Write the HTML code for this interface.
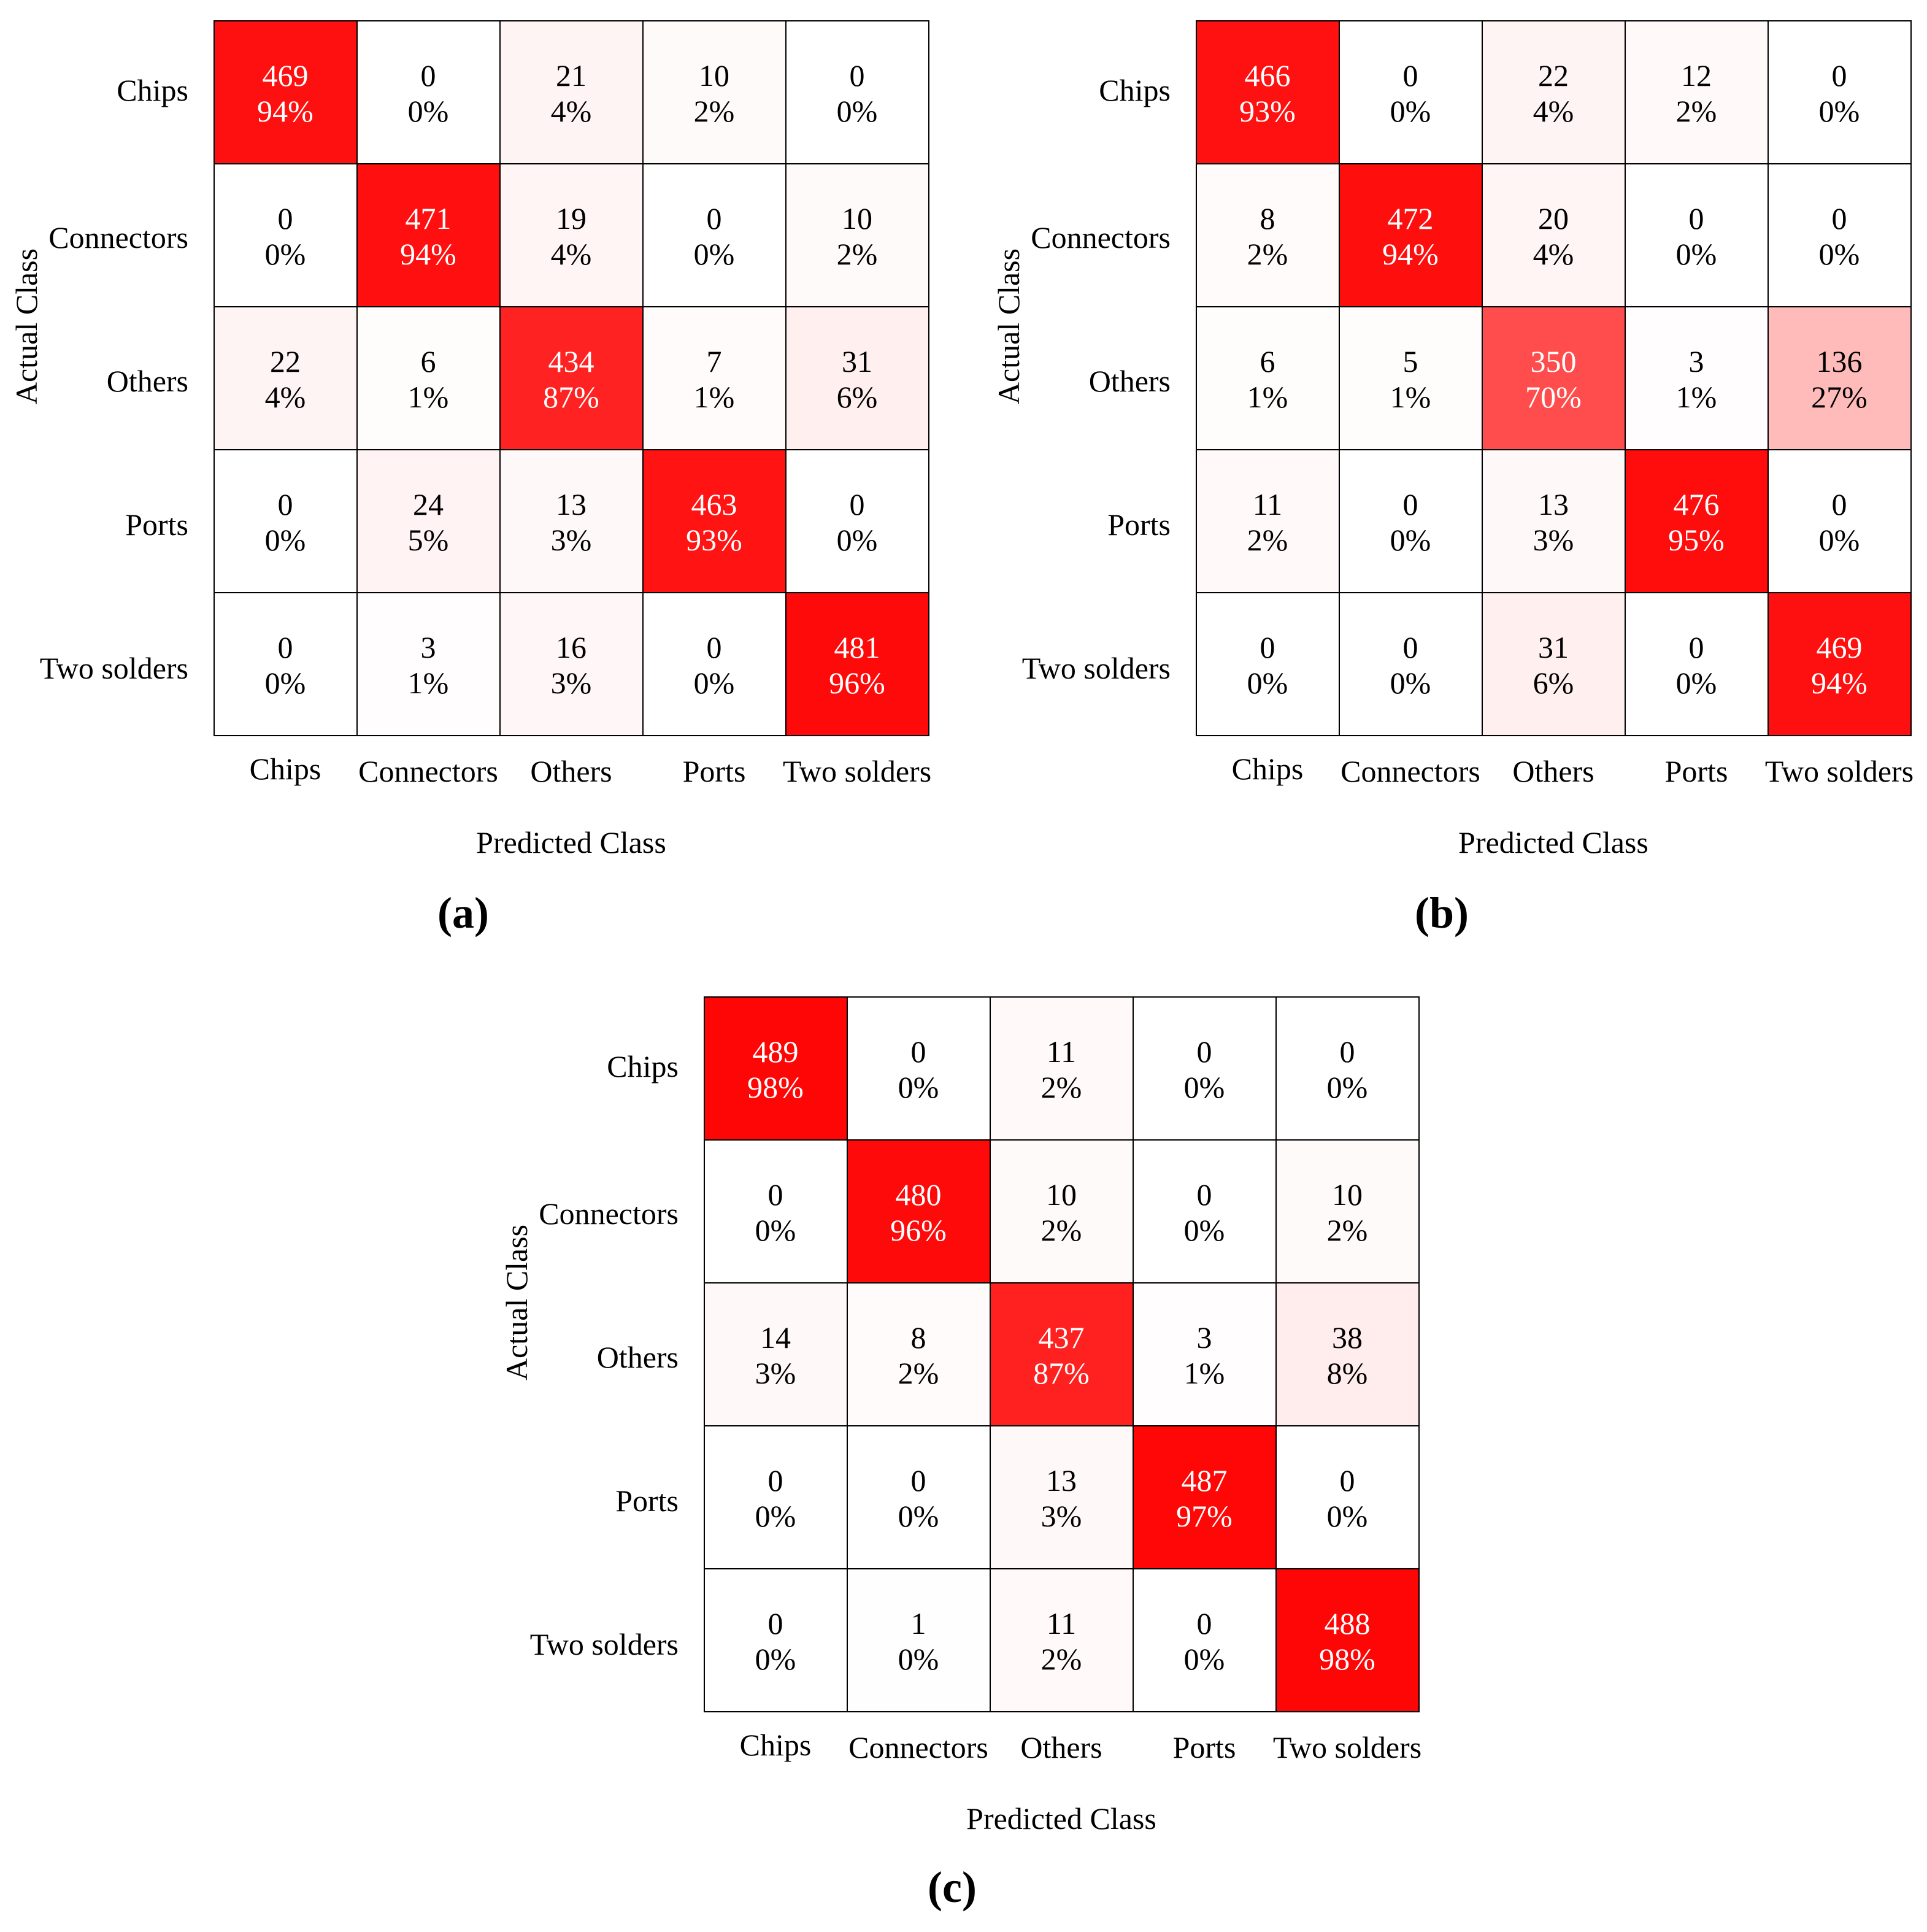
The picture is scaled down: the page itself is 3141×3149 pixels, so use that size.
<!DOCTYPE html>
<html><head><meta charset="utf-8"><style>
html,body{margin:0;padding:0;background:#fff}
svg{display:block}
text{font-family:"Liberation Serif",serif;font-size:50px;fill:#000}
.c text{text-anchor:middle}
.w{fill:#fff}
.r{text-anchor:end}
.m{text-anchor:middle}
.lab{font-family:"Liberation Serif",serif;font-weight:bold;font-size:72px;text-anchor:middle}
rect{stroke:#000;stroke-width:2}
</style></head><body>
<svg width="3141" height="3149" viewBox="0 0 3141 3149" xmlns="http://www.w3.org/2000/svg">
<!-- (a) -->
<g transform="translate(349,34)">
<g>
<rect x="0" y="0" width="233" height="233" fill="rgb(255,16,16)"/><rect x="233" y="0" width="233" height="233" fill="#fff"/><rect x="466" y="0" width="233" height="233" fill="rgb(255,244,244)"/><rect x="699" y="0" width="233" height="233" fill="rgb(255,250,250)"/><rect x="932" y="0" width="233" height="233" fill="#fff"/>
<rect x="0" y="233" width="233" height="233" fill="#fff"/><rect x="233" y="233" width="233" height="233" fill="rgb(255,15,15)"/><rect x="466" y="233" width="233" height="233" fill="rgb(255,245,245)"/><rect x="699" y="233" width="233" height="233" fill="#fff"/><rect x="932" y="233" width="233" height="233" fill="rgb(255,250,250)"/>
<rect x="0" y="466" width="233" height="233" fill="rgb(255,244,244)"/><rect x="233" y="466" width="233" height="233" fill="rgb(255,252,252)"/><rect x="466" y="466" width="233" height="233" fill="rgb(255,34,34)"/><rect x="699" y="466" width="233" height="233" fill="rgb(255,251,251)"/><rect x="932" y="466" width="233" height="233" fill="rgb(255,239,239)"/>
<rect x="0" y="699" width="233" height="233" fill="#fff"/><rect x="233" y="699" width="233" height="233" fill="rgb(255,243,243)"/><rect x="466" y="699" width="233" height="233" fill="rgb(255,248,248)"/><rect x="699" y="699" width="233" height="233" fill="rgb(255,19,19)"/><rect x="932" y="699" width="233" height="233" fill="#fff"/>
<rect x="0" y="932" width="233" height="233" fill="#fff"/><rect x="233" y="932" width="233" height="233" fill="rgb(255,253,253)"/><rect x="466" y="932" width="233" height="233" fill="rgb(255,247,247)"/><rect x="699" y="932" width="233" height="233" fill="#fff"/><rect x="932" y="932" width="233" height="233" fill="rgb(255,10,10)"/>
</g>
<g class="c" transform="translate(0,4)">
<text x="116" y="102" class="w">469</text><text x="116" y="160" class="w">94%</text><text x="349" y="102">0</text><text x="349" y="160">0%</text><text x="582" y="102">21</text><text x="582" y="160">4%</text><text x="815" y="102">10</text><text x="815" y="160">2%</text><text x="1048" y="102">0</text><text x="1048" y="160">0%</text>
<text x="116" y="335">0</text><text x="116" y="393">0%</text><text x="349" y="335" class="w">471</text><text x="349" y="393" class="w">94%</text><text x="582" y="335">19</text><text x="582" y="393">4%</text><text x="815" y="335">0</text><text x="815" y="393">0%</text><text x="1048" y="335">10</text><text x="1048" y="393">2%</text>
<text x="116" y="568">22</text><text x="116" y="626">4%</text><text x="349" y="568">6</text><text x="349" y="626">1%</text><text x="582" y="568" class="w">434</text><text x="582" y="626" class="w">87%</text><text x="815" y="568">7</text><text x="815" y="626">1%</text><text x="1048" y="568">31</text><text x="1048" y="626">6%</text>
<text x="116" y="801">0</text><text x="116" y="859">0%</text><text x="349" y="801">24</text><text x="349" y="859">5%</text><text x="582" y="801">13</text><text x="582" y="859">3%</text><text x="815" y="801" class="w">463</text><text x="815" y="859" class="w">93%</text><text x="1048" y="801">0</text><text x="1048" y="859">0%</text>
<text x="116" y="1034">0</text><text x="116" y="1092">0%</text><text x="349" y="1034">3</text><text x="349" y="1092">1%</text><text x="582" y="1034">16</text><text x="582" y="1092">3%</text><text x="815" y="1034">0</text><text x="815" y="1092">0%</text><text x="1048" y="1034" class="w">481</text><text x="1048" y="1092" class="w">96%</text>
</g>
<text class="r" x="-42" y="130">Chips</text>
<text class="r" x="-42" y="370">Connectors</text>
<text class="r" x="-42" y="604">Others</text>
<text class="r" x="-42" y="838">Ports</text>
<text class="r" x="-42" y="1072">Two solders</text>
<text class="m" x="116" y="1236">Chips</text>
<text class="m" x="349" y="1240">Connectors</text>
<text class="m" x="582" y="1240">Others</text>
<text class="m" x="815" y="1240">Ports</text>
<text class="m" x="1048" y="1240">Two solders</text>
<text class="m" x="582" y="1356">Predicted Class</text>
<text class="m" transform="translate(-289,498) rotate(-90)">Actual Class</text>
<text class="lab" x="406" y="1478">(a)</text>
</g>
<!-- (b) -->
<g transform="translate(1950,34)">
<g>
<rect x="0" y="0" width="233" height="233" fill="rgb(255,17,17)"/><rect x="233" y="0" width="233" height="233" fill="#fff"/><rect x="466" y="0" width="233" height="233" fill="rgb(255,244,244)"/><rect x="699" y="0" width="233" height="233" fill="rgb(255,249,249)"/><rect x="932" y="0" width="233" height="233" fill="#fff"/>
<rect x="0" y="233" width="233" height="233" fill="rgb(255,251,251)"/><rect x="233" y="233" width="233" height="233" fill="rgb(255,14,14)"/><rect x="466" y="233" width="233" height="233" fill="rgb(255,245,245)"/><rect x="699" y="233" width="233" height="233" fill="#fff"/><rect x="932" y="233" width="233" height="233" fill="#fff"/>
<rect x="0" y="466" width="233" height="233" fill="rgb(255,252,252)"/><rect x="233" y="466" width="233" height="233" fill="rgb(255,252,252)"/><rect x="466" y="466" width="233" height="233" fill="rgb(255,77,77)"/><rect x="699" y="466" width="233" height="233" fill="rgb(255,253,253)"/><rect x="932" y="466" width="233" height="233" fill="rgb(255,186,186)"/>
<rect x="0" y="699" width="233" height="233" fill="rgb(255,249,249)"/><rect x="233" y="699" width="233" height="233" fill="#fff"/><rect x="466" y="699" width="233" height="233" fill="rgb(255,248,248)"/><rect x="699" y="699" width="233" height="233" fill="rgb(255,12,12)"/><rect x="932" y="699" width="233" height="233" fill="#fff"/>
<rect x="0" y="932" width="233" height="233" fill="#fff"/><rect x="233" y="932" width="233" height="233" fill="#fff"/><rect x="466" y="932" width="233" height="233" fill="rgb(255,239,239)"/><rect x="699" y="932" width="233" height="233" fill="#fff"/><rect x="932" y="932" width="233" height="233" fill="rgb(255,16,16)"/>
</g>
<g class="c" transform="translate(0,4)">
<text x="116" y="102" class="w">466</text><text x="116" y="160" class="w">93%</text><text x="349" y="102">0</text><text x="349" y="160">0%</text><text x="582" y="102">22</text><text x="582" y="160">4%</text><text x="815" y="102">12</text><text x="815" y="160">2%</text><text x="1048" y="102">0</text><text x="1048" y="160">0%</text>
<text x="116" y="335">8</text><text x="116" y="393">2%</text><text x="349" y="335" class="w">472</text><text x="349" y="393" class="w">94%</text><text x="582" y="335">20</text><text x="582" y="393">4%</text><text x="815" y="335">0</text><text x="815" y="393">0%</text><text x="1048" y="335">0</text><text x="1048" y="393">0%</text>
<text x="116" y="568">6</text><text x="116" y="626">1%</text><text x="349" y="568">5</text><text x="349" y="626">1%</text><text x="582" y="568" class="w">350</text><text x="582" y="626" class="w">70%</text><text x="815" y="568">3</text><text x="815" y="626">1%</text><text x="1048" y="568">136</text><text x="1048" y="626">27%</text>
<text x="116" y="801">11</text><text x="116" y="859">2%</text><text x="349" y="801">0</text><text x="349" y="859">0%</text><text x="582" y="801">13</text><text x="582" y="859">3%</text><text x="815" y="801" class="w">476</text><text x="815" y="859" class="w">95%</text><text x="1048" y="801">0</text><text x="1048" y="859">0%</text>
<text x="116" y="1034">0</text><text x="116" y="1092">0%</text><text x="349" y="1034">0</text><text x="349" y="1092">0%</text><text x="582" y="1034">31</text><text x="582" y="1092">6%</text><text x="815" y="1034">0</text><text x="815" y="1092">0%</text><text x="1048" y="1034" class="w">469</text><text x="1048" y="1092" class="w">94%</text>
</g>
<text class="r" x="-42" y="130">Chips</text>
<text class="r" x="-42" y="370">Connectors</text>
<text class="r" x="-42" y="604">Others</text>
<text class="r" x="-42" y="838">Ports</text>
<text class="r" x="-42" y="1072">Two solders</text>
<text class="m" x="116" y="1236">Chips</text>
<text class="m" x="349" y="1240">Connectors</text>
<text class="m" x="582" y="1240">Others</text>
<text class="m" x="815" y="1240">Ports</text>
<text class="m" x="1048" y="1240">Two solders</text>
<text class="m" x="582" y="1356">Predicted Class</text>
<text class="m" transform="translate(-289,498) rotate(-90)">Actual Class</text>
<text class="lab" x="400" y="1478">(b)</text>
</g>
<!-- (c) -->
<g transform="translate(1148,1625)">
<g>
<rect x="0" y="0" width="233" height="233" fill="rgb(255,6,6)"/><rect x="233" y="0" width="233" height="233" fill="#fff"/><rect x="466" y="0" width="233" height="233" fill="rgb(255,249,249)"/><rect x="699" y="0" width="233" height="233" fill="#fff"/><rect x="932" y="0" width="233" height="233" fill="#fff"/>
<rect x="0" y="233" width="233" height="233" fill="#fff"/><rect x="233" y="233" width="233" height="233" fill="rgb(255,10,10)"/><rect x="466" y="233" width="233" height="233" fill="rgb(255,250,250)"/><rect x="699" y="233" width="233" height="233" fill="#fff"/><rect x="932" y="233" width="233" height="233" fill="rgb(255,250,250)"/>
<rect x="0" y="466" width="233" height="233" fill="rgb(255,248,248)"/><rect x="233" y="466" width="233" height="233" fill="rgb(255,251,251)"/><rect x="466" y="466" width="233" height="233" fill="rgb(255,32,32)"/><rect x="699" y="466" width="233" height="233" fill="rgb(255,253,253)"/><rect x="932" y="466" width="233" height="233" fill="rgb(255,236,236)"/>
<rect x="0" y="699" width="233" height="233" fill="#fff"/><rect x="233" y="699" width="233" height="233" fill="#fff"/><rect x="466" y="699" width="233" height="233" fill="rgb(255,248,248)"/><rect x="699" y="699" width="233" height="233" fill="rgb(255,7,7)"/><rect x="932" y="699" width="233" height="233" fill="#fff"/>
<rect x="0" y="932" width="233" height="233" fill="#fff"/><rect x="233" y="932" width="233" height="233" fill="rgb(255,254,254)"/><rect x="466" y="932" width="233" height="233" fill="rgb(255,249,249)"/><rect x="699" y="932" width="233" height="233" fill="#fff"/><rect x="932" y="932" width="233" height="233" fill="rgb(255,6,6)"/>
</g>
<g class="c" transform="translate(0,4)">
<text x="116" y="102" class="w">489</text><text x="116" y="160" class="w">98%</text><text x="349" y="102">0</text><text x="349" y="160">0%</text><text x="582" y="102">11</text><text x="582" y="160">2%</text><text x="815" y="102">0</text><text x="815" y="160">0%</text><text x="1048" y="102">0</text><text x="1048" y="160">0%</text>
<text x="116" y="335">0</text><text x="116" y="393">0%</text><text x="349" y="335" class="w">480</text><text x="349" y="393" class="w">96%</text><text x="582" y="335">10</text><text x="582" y="393">2%</text><text x="815" y="335">0</text><text x="815" y="393">0%</text><text x="1048" y="335">10</text><text x="1048" y="393">2%</text>
<text x="116" y="568">14</text><text x="116" y="626">3%</text><text x="349" y="568">8</text><text x="349" y="626">2%</text><text x="582" y="568" class="w">437</text><text x="582" y="626" class="w">87%</text><text x="815" y="568">3</text><text x="815" y="626">1%</text><text x="1048" y="568">38</text><text x="1048" y="626">8%</text>
<text x="116" y="801">0</text><text x="116" y="859">0%</text><text x="349" y="801">0</text><text x="349" y="859">0%</text><text x="582" y="801">13</text><text x="582" y="859">3%</text><text x="815" y="801" class="w">487</text><text x="815" y="859" class="w">97%</text><text x="1048" y="801">0</text><text x="1048" y="859">0%</text>
<text x="116" y="1034">0</text><text x="116" y="1092">0%</text><text x="349" y="1034">1</text><text x="349" y="1092">0%</text><text x="582" y="1034">11</text><text x="582" y="1092">2%</text><text x="815" y="1034">0</text><text x="815" y="1092">0%</text><text x="1048" y="1034" class="w">488</text><text x="1048" y="1092" class="w">98%</text>
</g>
<text class="r" x="-42" y="130">Chips</text>
<text class="r" x="-42" y="370">Connectors</text>
<text class="r" x="-42" y="604">Others</text>
<text class="r" x="-42" y="838">Ports</text>
<text class="r" x="-42" y="1072">Two solders</text>
<text class="m" x="116" y="1236">Chips</text>
<text class="m" x="349" y="1240">Connectors</text>
<text class="m" x="582" y="1240">Others</text>
<text class="m" x="815" y="1240">Ports</text>
<text class="m" x="1048" y="1240">Two solders</text>
<text class="m" x="582" y="1356">Predicted Class</text>
<text class="m" transform="translate(-289,498) rotate(-90)">Actual Class</text>
<text class="lab" x="404" y="1475">(c)</text>
</g>
</svg>
</body></html>
